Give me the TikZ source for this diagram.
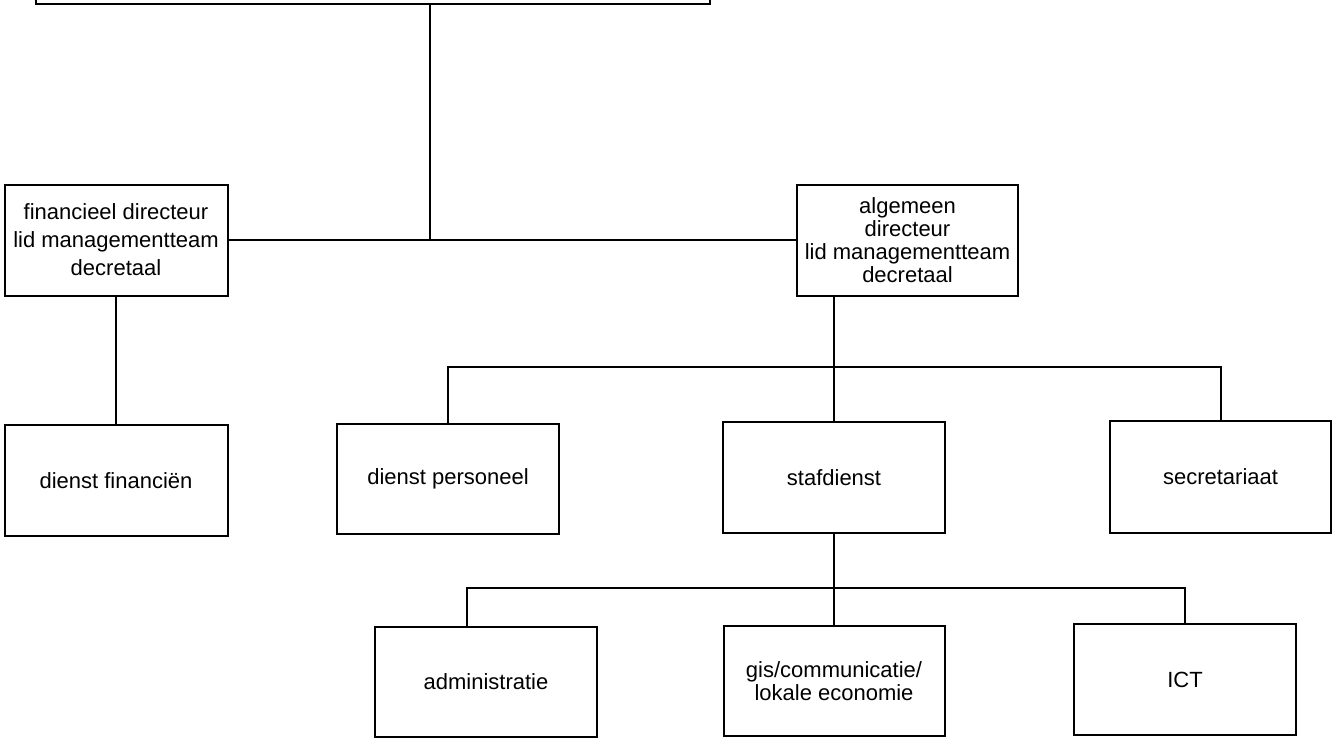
\documentclass[tikz,border=0pt]{standalone}
\usepackage{fontspec}
\setmainfont{Liberation Sans}
\begin{document}
\begin{tikzpicture}[x=1pt,y=-1pt,
  box/.style={draw, line width=2pt, align=center, inner sep=0pt,
    font=\fontsize{22}{23}\selectfont},
  conn/.style={line width=2pt}]
\useasboundingbox (0,0) rectangle (1335,742);
% cut-off top box
\node[box, minimum width=674pt, minimum height=80pt] (top) at (373,-36) {};
% directors
\node[box, minimum width=223pt, minimum height=111pt,
  font=\fontsize{22}{28}\selectfont] (fin) at (116,240) {financieel directeur\\lid managementteam\\decretaal};
\node[box, minimum width=221pt, minimum height=111pt] (alg) at (907.5,240) {algemeen\\directeur\\lid managementteam\\decretaal};
% services
\node[box, minimum width=223pt, minimum height=111pt] (dfin) at (116,480.5) {dienst financiën};
\node[box, minimum width=222pt, minimum height=110pt] (dpers) at (448,479) {dienst personeel};
\node[box, minimum width=222pt, minimum height=111pt] (staf) at (834,477.5) {stafdienst};
\node[box, minimum width=221pt, minimum height=112pt] (secr) at (1220.5,477) {secretariaat};
% units
\node[box, minimum width=222pt, minimum height=110pt] (adm) at (486,682) {administratie};
\node[box, minimum width=221pt, minimum height=110pt] (gis) at (834,681) {gis/communicatie/\\lokale economie};
\node[box, minimum width=222pt, minimum height=111pt] (ict) at (1185,679.5) {ICT};
% junctions
\coordinate (j1) at (430,240);
\coordinate (b1) at (834,367);
\coordinate (b2) at (834,588);
\coordinate (a1) at (467,588);
% connectors
\draw[conn] (fin.east) -- (alg.west);
\draw[conn] (top.south -| j1) -- (j1);
\draw[conn] (fin.south) -- (dfin.north);
\draw[conn] (alg.south -| b1) -- (staf.north);
\draw[conn] (dpers.north) |- (b1) -| (secr.north);
\draw[conn] (staf.south) -- (gis.north);
\draw[conn] (a1 |- adm.north) -- (a1) -| (ict.north);
\end{tikzpicture}
\end{document}
